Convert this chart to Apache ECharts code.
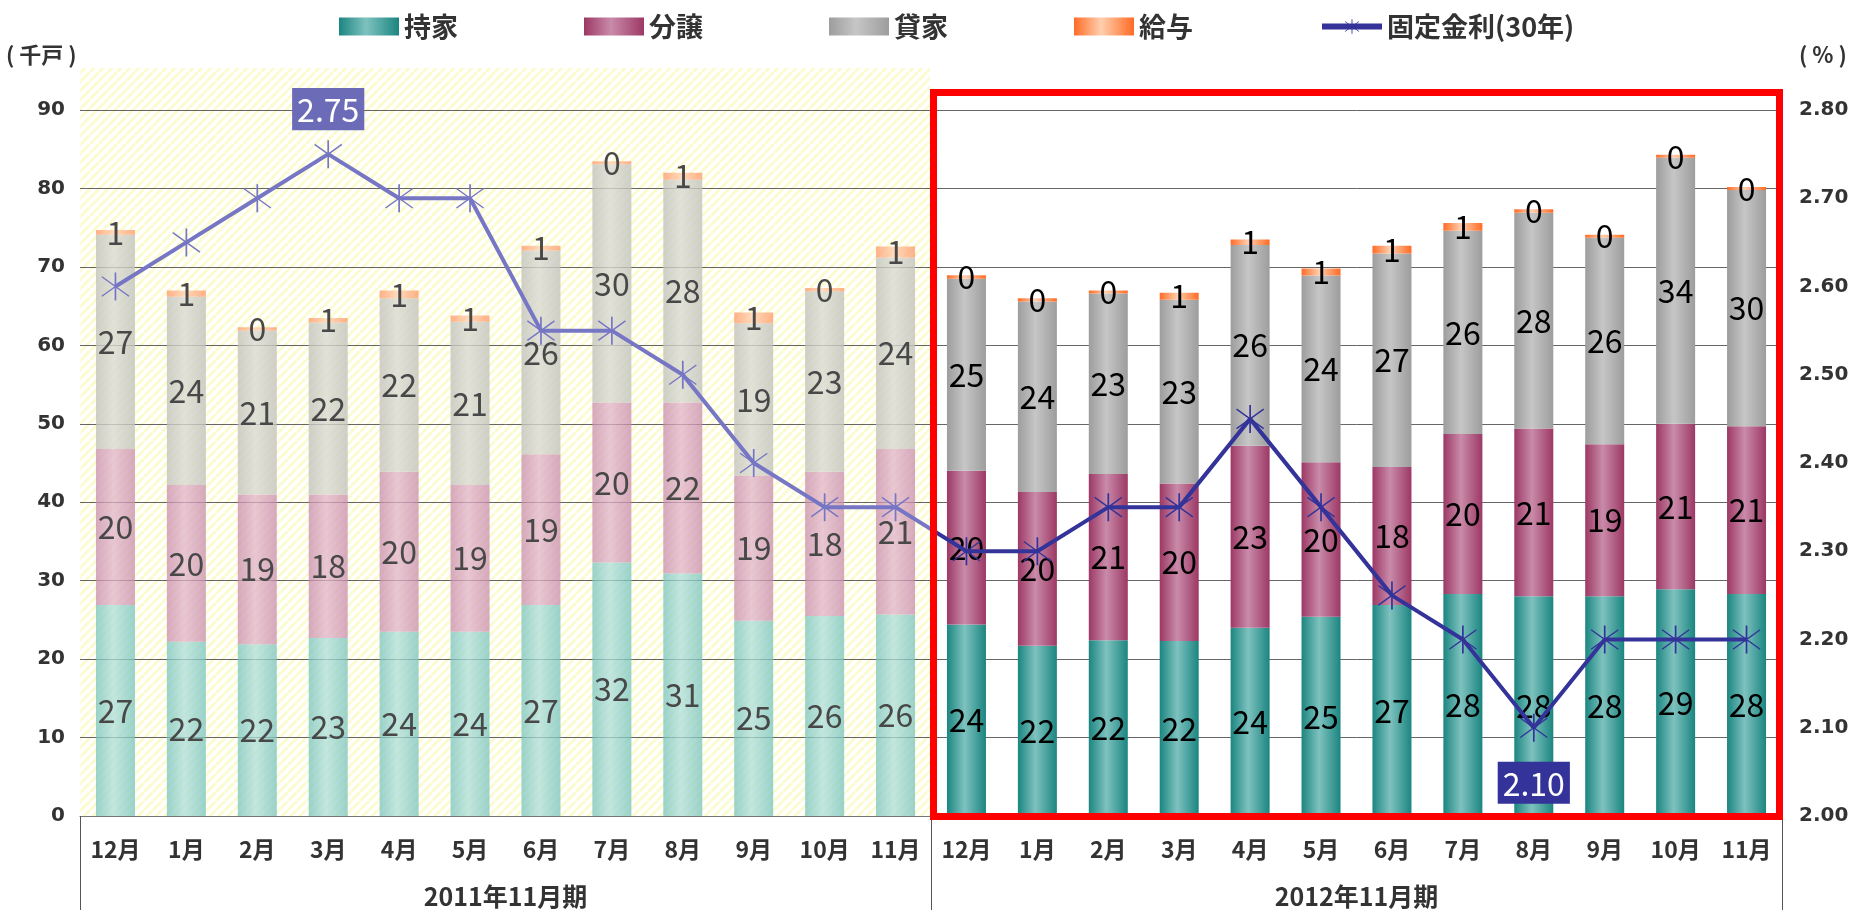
<!DOCTYPE html>
<html>
<head>
<meta charset="utf-8">
<script src="https://cdn.jsdelivr.net/npm/echarts@6/dist/echarts.min.js"></script>
<style>
  html, body { margin: 0; padding: 0; background: #fff; }
  #main { width: 1855px; height: 910px; }
</style>
</head>
<body>
<div id="main"></div>
<script>
// 月ラベル（2期分）
var months = ['12月', '1月', '2月', '3月', '4月', '5月', '6月', '7月', '8月', '9月', '10月', '11月'];
var periods = ['2011年11月期', '2012年11月期'];
// 千戸
var mochiie = [26.9, 22.2, 21.9, 22.7, 23.5, 23.5, 26.9, 32.3, 30.9, 24.9, 25.5, 25.7,
               24.4, 21.7, 22.4, 22.3, 24.0, 25.4, 26.9, 28.3, 28.0, 28.0, 28.9, 28.3];
var bunjo = [19.9, 20.0, 19.1, 18.3, 20.4, 18.7, 19.2, 20.4, 21.8, 18.5, 18.4, 21.1,
             19.6, 19.6, 21.2, 20.1, 23.2, 19.7, 17.6, 20.4, 21.4, 19.4, 21.1, 21.4];
var kashiya = [27.3, 24.0, 20.9, 21.9, 22.1, 20.8, 26.0, 30.4, 28.4, 19.4, 23.0, 24.4,
               24.5, 24.3, 23.0, 23.4, 25.6, 23.8, 27.2, 25.9, 27.5, 26.3, 33.9, 30.1];
var kyuyo = [0.6, 0.8, 0.4, 0.6, 1.0, 0.8, 0.6, 0.3, 0.9, 1.4, 0.4, 1.4,
             0.45, 0.4, 0.3, 0.9, 0.7, 0.9, 1.0, 1.0, 0.45, 0.4, 0.3, 0.3];
// 固定金利(30年) %
var rates = [2.60, 2.65, 2.70, 2.75, 2.70, 2.70, 2.55, 2.55, 2.50, 2.40, 2.35, 2.35,
             2.30, 2.30, 2.35, 2.35, 2.45, 2.35, 2.25, 2.20, 2.10, 2.20, 2.20, 2.20];
var leftTicks = [0, 90, 10];
var rightTicks = [2.0, 2.8, 0.1];

var categories = months.concat(months);
var numFont = "'Noto Sans CJK JP', sans-serif";
var jpFont = "'Noto Sans CJK JP', sans-serif";
var oldLine = '#7676c4';
var newLine = '#333399';

var myChart = echarts.init(document.getElementById('main'));

// 棒の横方向グラデーション
function grad(edge, mid) {
    return new echarts.graphic.LinearGradient(0, 0, 1, 0, [
        { offset: 0, color: edge },
        { offset: 0.45, color: mid },
        { offset: 1, color: edge }
    ]);
}

// 背景の斜線（2011年11月期）
function hatch() {
    var c = document.createElement('canvas');
    c.width = 9; c.height = 9;
    var ctx = c.getContext('2d');
    ctx.fillStyle = '#ffffff';
    ctx.fillRect(0, 0, 9, 9);
    ctx.strokeStyle = '#fbfbcf';
    ctx.lineWidth = 3;
    [-9, 0, 9].forEach(function (k) {
        ctx.beginPath();
        ctx.moveTo(k, 9);
        ctx.lineTo(k + 9, 0);
        ctx.stroke();
    });
    return c;
}

function barSeries(name, values, color, oldColor) {
    return {
        name: name,
        type: 'bar',
        stack: 'total',
        barWidth: 39,
        itemStyle: { color: color },
        label: {
            show: true,
            position: 'inside',
            color: '#000',
            fontSize: 32,
            fontFamily: numFont,
            formatter: function (p) { return Math.round(p.value); }
        },
        data: values.map(function (v, i) {
            if (i < 12) {
                return { value: v, itemStyle: { color: oldColor }, label: { color: '#484848' } };
            }
            return v;
        })
    };
}

var star = 'path://M47 0L53 0L53 100L47 100Z' +
    'M3.47 12.98L99.47 82.98L96.53 87.02L0.53 17.02Z' +
    'M0.53 82.98L96.53 12.98L99.47 17.02L3.47 87.02Z';

var lineData = rates.map(function (v, i) {
    var item = { value: v };
    if (i < 12) item.itemStyle = { color: oldLine };
    if (i === 3) {
        item.label = { show: true, position: 'top', distance: 10, backgroundColor: '#6b6bb8' };
    }
    if (i === 20) {
        item.label = { show: true, position: 'bottom', distance: 20, backgroundColor: newLine };
    }
    return item;
});

var kyuyoSeries = barSeries('給与', kyuyo, grad('#ff6b25', '#ffcfae'), grad('rgba(255,150,100,0.75)', 'rgba(255,205,170,0.75)'));
kyuyoSeries.barMinHeight = 3;

// 期の境目で線の色を切り替える
var split = 930 / 1855;
var lineColor = new echarts.graphic.LinearGradient(0, 0, 1855, 0, [
    { offset: 0, color: oldLine },
    { offset: split, color: oldLine },
    { offset: split, color: newLine },
    { offset: 1, color: newLine }
], true);

var option = {
    animation: false,
    grid: { left: 80, right: 73, top: 110, bottom: 94 },
    legend: {
        left: 334,
        top: 8,
        itemWidth: 60,
        itemHeight: 18,
        itemGap: 126,
        textStyle: { fontSize: 27, fontWeight: 'bold', color: '#333', fontFamily: jpFont },
        data: [
            { name: '持家', icon: 'rect' },
            { name: '分譲', icon: 'rect' },
            { name: '貸家', icon: 'rect' },
            { name: '給与', icon: 'rect' },
            { name: '固定金利(30年)', lineStyle: { width: 6, color: newLine }, itemStyle: { color: newLine } }
        ]
    },
    xAxis: [
        {
            type: 'category',
            data: categories,
            axisLine: { lineStyle: { color: '#777' } },
            axisTick: { show: false },
            axisLabel: { margin: 22, fontSize: 23, fontWeight: 'bold', color: '#333', fontFamily: jpFont, interval: 0 }
        },
        {
            type: 'category',
            data: periods,
            position: 'bottom',
            axisLine: { show: false },
            axisTick: { show: true, length: 94, lineStyle: { color: '#555' } },
            axisLabel: { margin: 68, fontSize: 25, fontWeight: 'bold', color: '#333', fontFamily: jpFont }
        }
    ],
    yAxis: [
        {
            type: 'value',
            min: leftTicks[0], max: leftTicks[1], interval: leftTicks[2],
            axisLine: { show: false },
            axisTick: { show: false },
            splitLine: { lineStyle: { color: '#666', width: 1 } },
            axisLabel: { margin: 15, fontSize: 20, fontWeight: 'bold', color: '#333', fontFamily: "'DejaVu Sans', sans-serif" }
        },
        {
            type: 'value',
            min: rightTicks[0], max: rightTicks[1], interval: rightTicks[2],
            axisLine: { show: false },
            axisTick: { show: false },
            splitLine: { show: false },
            axisLabel: {
                margin: 17, fontSize: 20, fontWeight: 'bold', color: '#333', fontFamily: "'DejaVu Sans', sans-serif",
                formatter: function (v) { return v.toFixed(2); }
            }
        }
    ],
    graphic: [
        {
            type: 'rect', silent: true, z: -1,
            shape: { x: 80, y: 68, width: 850, height: 748 },
            style: { fill: { image: hatch(), repeat: 'repeat' } }
        },
        {
            type: 'rect', silent: true, z: 100,
            shape: { x: 933.5, y: 92.5, width: 846, height: 724 },
            style: { fill: null, stroke: '#ff0000', lineWidth: 7 }
        },
        {
            type: 'text', left: 6, top: 44,
            style: { text: '( 千戸 )', fontSize: 22, fontWeight: 'bold', fill: '#333', fontFamily: jpFont }
        },
        {
            type: 'text', left: 1799, top: 44,
            style: { text: '( % )', fontSize: 22, fontWeight: 'bold', fill: '#333', fontFamily: jpFont }
        }
    ],
    series: [
        barSeries('持家', mochiie, grad('#1b8580', '#7ec2bf'), grad('rgba(120,195,188,0.75)', 'rgba(175,222,216,0.75)')),
        barSeries('分譲', bunjo, grad('#9c3865', '#c98ba9'), grad('rgba(200,140,170,0.75)', 'rgba(225,180,200,0.75)')),
        barSeries('貸家', kashiya, grad('#9d9d9d', '#c6c6c6'), grad('rgba(195,195,188,0.8)', 'rgba(218,218,210,0.8)')),
        kyuyoSeries,
        {
            name: '固定金利(30年)',
            type: 'line',
            yAxisIndex: 1,
            z: 10,
            symbol: star,
            symbolSize: 28,
            itemStyle: { color: newLine },
            lineStyle: { color: lineColor, width: 4 },
            label: {
                show: false,
                color: '#fff',
                fontSize: 32,
                fontFamily: numFont,
                padding: [6, 5, 4, 5],
                formatter: function (p) { return p.value.toFixed(2); }
            },
            data: lineData
        }
    ]
};

myChart.setOption(option);
</script>
</body>
</html>
